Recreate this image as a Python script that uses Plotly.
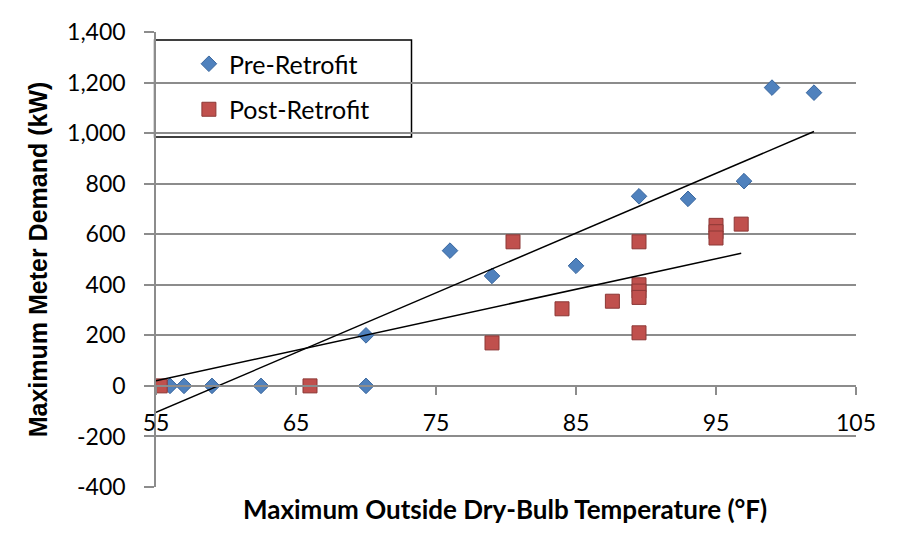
import plotly.graph_objects as go
import numpy as np

# Data
pre_x = [56, 57, 59, 62.5, 70, 70, 76, 79, 85, 89.5, 93, 97, 99, 102]
pre_y = [0, 0, 0, 0, 0, 200, 535, 435, 475, 750, 740, 810, 1180, 1160]

post_x = [55.3, 66, 79, 80.5, 84, 87.6, 89.5, 89.5, 89.5, 89.5, 89.5, 95, 95, 95, 96.8]
post_y = [0, 0, 170, 570, 305, 335, 570, 400, 375, 350, 210, 635, 610, 585, 640]

# Linear trendlines (slope, intercept)
pre_trend = (23.64, -1405.0)
post_trend = (12.07, -643.9)
trend_start = 55

x_ticks = [55, 65, 75, 85, 95, 105]
y_ticks = [-400, -200, 0, 200, 400, 600, 800, 1000, 1200, 1400]

BLUE = "#4F81BD"
BLUE_EDGE = "#3A679E"
RED = "#C0504D"
RED_EDGE = "#8C3836"
GRID = "#8C8C8C"

fig = go.Figure()

fig.add_trace(go.Scatter(
    x=pre_x, y=pre_y, mode="markers", name="Pre-Retrofit", legendgroup="pre",
    marker=dict(symbol="diamond", size=12, color=BLUE, line=dict(color=BLUE_EDGE, width=1)),
))
fig.add_trace(go.Scatter(
    x=post_x, y=post_y, mode="markers", name="Post-Retrofit", legendgroup="post",
    marker=dict(symbol="square", size=14, color=RED, line=dict(color=RED_EDGE, width=1)),
))

for (m, b), xs in [(pre_trend, pre_x), (post_trend, post_x)]:
    tx = np.array([trend_start, max(xs)])
    fig.add_trace(go.Scatter(
        x=tx, y=m * tx + b, mode="lines", showlegend=False, hoverinfo="skip",
        line=dict(color="black", width=1.5),
    ))

# Legend box
fig.add_shape(type="rect", xref="paper", yref="paper",
              x0=-0.002, x1=0.365, y0=(487 - 137) / 455, y1=(487 - 40) / 455,
              fillcolor="white", line=dict(color="black", width=1.5), layer="between")

tick_font = dict(family="Lato, Carlito, sans-serif", size=23, color="black")

fig.update_layout(
    width=900, height=550,
    margin=dict(l=156, r=44, t=32, b=63),
    paper_bgcolor="white", plot_bgcolor="white",
    showlegend=True,
    legend=dict(
        x=0.047, y=(487 - 41) / 455, xanchor="left", yanchor="top",
        bgcolor="rgba(0,0,0,0)", borderwidth=0,
        font=dict(family="Lato, Carlito, sans-serif", size=25, color="black"),
        tracegroupgap=10,
    ),
    xaxis=dict(
        range=[55, 105], tickvals=x_ticks, ticktext=[str(v) for v in x_ticks],
        anchor="free", position=400 / 1800,
        showgrid=False, zeroline=False,
        showline=True, linecolor=GRID, linewidth=1.5,
        ticks="outside", ticklen=8, tickcolor=GRID, tickwidth=1.5,
        ticklabelstandoff=9,
        tickfont=tick_font,
    ),
    yaxis=dict(
        range=[-400, 1400], tickvals=y_ticks,
        ticktext=[f"{v:,}" for v in y_ticks],
        showgrid=True, gridcolor=GRID, gridwidth=1.5,
        zeroline=False,
        showline=True, linecolor=GRID, linewidth=1.5,
        ticks="outside", ticklen=10, tickcolor=GRID, tickwidth=1.5,
        ticklabelstandoff=14,
        tickfont=tick_font,
        title=dict(text="<b>Maximum Meter Demand (kW)</b>",
                   font=dict(family="Liberation Sans, Arial, sans-serif", size=25, color="black"),
                   standoff=12),
    ),
    annotations=[dict(
        text="<b>Maximum Outside Dry-Bulb Temperature (°F)</b>",
        xref="paper", yref="paper", x=(505 - 156) / 700, y=(487 - 509) / 455,
        xanchor="center", yanchor="middle", showarrow=False,
        font=dict(family="Lato, Carlito, sans-serif", size=26, color="black"),
    )],
)

fig.write_html("out.html")
